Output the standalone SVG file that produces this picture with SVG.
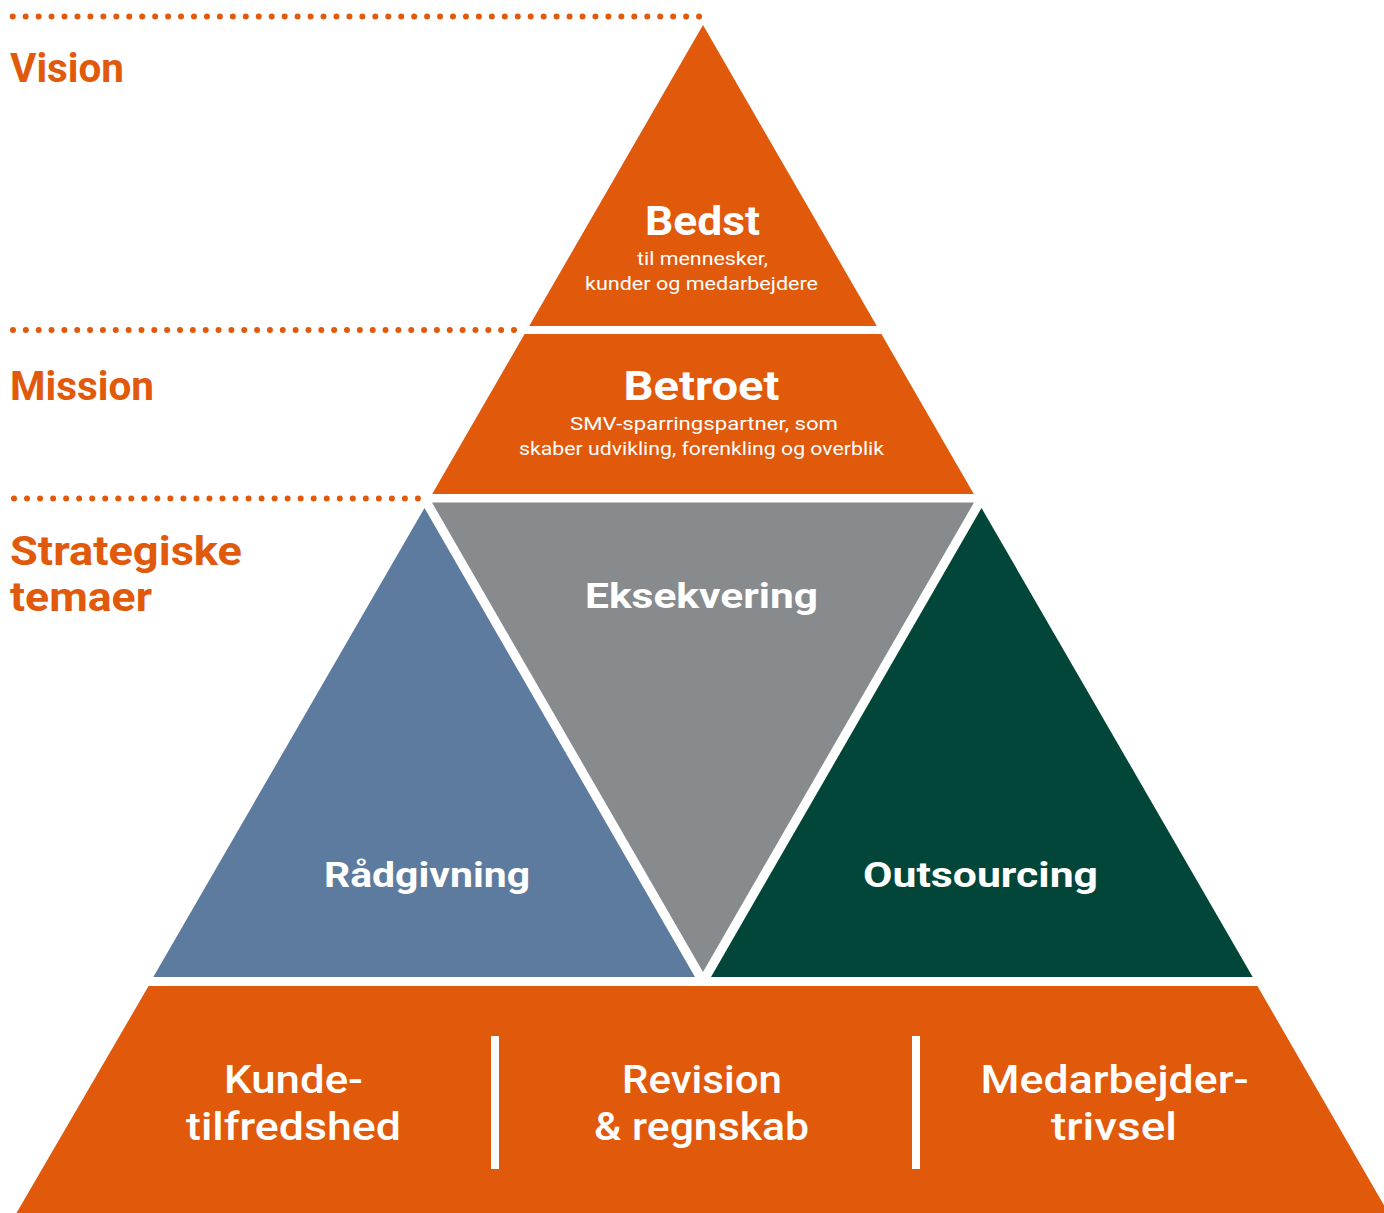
<svg xmlns="http://www.w3.org/2000/svg" width="1384" height="1213" viewBox="0 0 1384 1213">
  <style>
    .or { fill: #E1590B; }
    .dots { stroke: #E1590B; stroke-width: 6; stroke-linecap: round; fill: none; }
    .lbl { font-family: Roboto, "Liberation Sans", sans-serif; font-weight: 700; font-size: 40px; fill: #E1590B; }
    .h { font-family: Roboto, "Liberation Sans", sans-serif; font-weight: 700; fill: #FFFFFF; text-anchor: middle; }
    .big { font-size: 40px; }
    .mid { font-size: 35px; }
    .bot { font-size: 39px; font-weight: 500; }
    .sub { font-family: Roboto, "Liberation Sans", sans-serif; font-weight: 400; font-size: 19px; fill: #FFFFFF; text-anchor: middle; }
    .div { fill: #FFFFFF; }
  </style>
  <rect width="1384" height="1213" fill="#FFFFFF"/>

  <g id="connectors">
    <line class="dots" x1="12.7" y1="16.5" x2="700" y2="16.5" stroke-dasharray="0 12.95"/>
    <line class="dots" x1="13" y1="330" x2="515" y2="330" stroke-dasharray="0 12.846"/>
    <line class="dots" x1="14" y1="498.5" x2="419" y2="498.5" stroke-dasharray="0 13.03"/>
  </g>

  <g id="labels">
    <text class="lbl" x="10" y="82" textLength="114" lengthAdjust="spacingAndGlyphs">Vision</text>
    <text class="lbl" x="10" y="400" textLength="144" lengthAdjust="spacingAndGlyphs">Mission</text>
    <text class="lbl" x="10" y="565" textLength="232" lengthAdjust="spacingAndGlyphs">Strategiske</text>
    <text class="lbl" x="10" y="611" textLength="142" lengthAdjust="spacingAndGlyphs">temaer</text>
  </g>

  <g id="vision">
    <polygon class="or" points="703,25 529.2,326 876.8,326"/>
    <text class="h big" x="702.5" y="235" textLength="115" lengthAdjust="spacingAndGlyphs">Bedst</text>
    <text class="sub" x="702.5" y="265" textLength="131" lengthAdjust="spacingAndGlyphs">til mennesker,</text>
    <text class="sub" x="701.5" y="290" textLength="233" lengthAdjust="spacingAndGlyphs">kunder og medarbejdere</text>
  </g>

  <g id="mission">
    <polygon class="or" points="524.6,334 881.4,334 973.8,494 432.2,494"/>
    <text class="h big" x="701.5" y="400" textLength="156" lengthAdjust="spacingAndGlyphs">Betroet</text>
    <text class="sub" x="704" y="430" textLength="268" lengthAdjust="spacingAndGlyphs">SMV-sparringspartner, som</text>
    <text class="sub" x="701.5" y="455" textLength="365" lengthAdjust="spacingAndGlyphs">skaber udvikling, forenkling og overblik</text>
  </g>

  <g id="eksekvering">
    <polygon fill="#878B8D" points="432,502.5 974,502.5 703,972"/>
    <text class="h mid" x="701.5" y="608" textLength="233" lengthAdjust="spacingAndGlyphs">Eksekvering</text>
  </g>

  <g id="raadgivning">
    <polygon fill="#5C7B9E" points="424.5,508 153.3,977 695,977"/>
    <text class="h mid" x="427" y="887" textLength="206" lengthAdjust="spacingAndGlyphs">Rådgivning</text>
  </g>

  <g id="outsourcing">
    <polygon fill="#014638" points="981.5,508 711,977 1252.7,977"/>
    <text class="h mid" x="980.5" y="887" textLength="235" lengthAdjust="spacingAndGlyphs">Outsourcing</text>
  </g>

  <g id="fundament">
    <polygon class="or" points="148.6,986 1257.4,986 1392,1219 13,1219"/>
    <rect class="div" x="491" y="1036" width="8" height="133"/>
    <rect class="div" x="912" y="1036" width="8" height="133"/>
    <text class="h bot" x="293.5" y="1093" textLength="139" lengthAdjust="spacingAndGlyphs">Kunde-</text>
    <text class="h bot" x="293.5" y="1140" textLength="215" lengthAdjust="spacingAndGlyphs">tilfredshed</text>
    <text class="h bot" x="702" y="1093" textLength="160" lengthAdjust="spacingAndGlyphs">Revision</text>
    <text class="h bot" x="701.5" y="1140" textLength="215" lengthAdjust="spacingAndGlyphs">&amp; regnskab</text>
    <text class="h bot" x="1114.6" y="1093" textLength="268" lengthAdjust="spacingAndGlyphs">Medarbejder-</text>
    <text class="h bot" x="1114" y="1140" textLength="126" lengthAdjust="spacingAndGlyphs">trivsel</text>
  </g>
</svg>
